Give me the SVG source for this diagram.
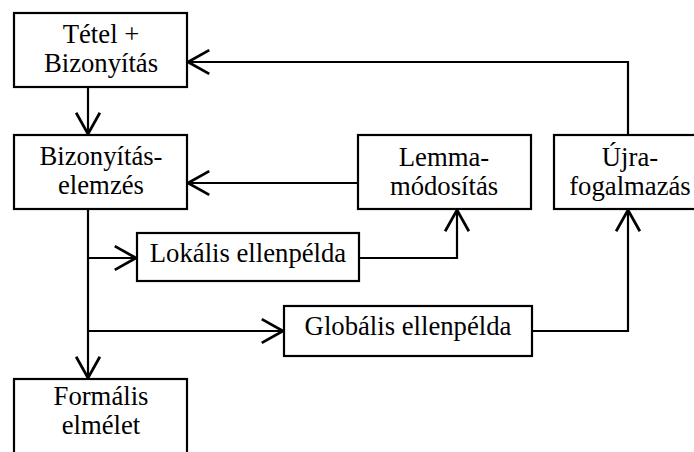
<svg xmlns="http://www.w3.org/2000/svg" width="694" height="452" viewBox="0 0 694 452">
<defs>
<style>
.box{fill:#fff;stroke:#000;stroke-width:2.2}
.lbl{font-family:"Liberation Serif","Times New Roman",serif;font-size:26.7px;fill:#000;text-anchor:middle}
.con{fill:none;stroke:#000;stroke-width:2.2;marker-end:url(#arr)}
</style>
<marker id="arr" markerUnits="userSpaceOnUse" markerWidth="30" markerHeight="30" viewBox="-20 -12 24 24" refX="0" refY="0" orient="auto">
<path d="M-17,-9.5 L0,0 L-17,9.5" fill="none" stroke="#000" stroke-width="2.2"/>
</marker>
</defs>
<rect width="694" height="452" fill="#fff"/>
<g id="connectors">
<path class="con" d="M88,87 V134"/>
<path class="con" d="M358,183 H188"/>
<path class="con" d="M628,135 V62 H188"/>
<path class="con" d="M88,209 V378"/>
<path class="con" d="M88,258 H136"/>
<path class="con" d="M88,331 H283"/>
<path class="con" d="M359,258 H457 V210"/>
<path class="con" d="M532,331 H628 V210"/>
</g>
<g id="tetel">
<rect class="box" x="14" y="13" width="173" height="74"/>
<text class="lbl" x="101" y="43">Tétel +</text>
<text class="lbl" x="101" y="72">Bizonyítás</text>
</g>
<g id="elemzes">
<rect class="box" x="14" y="135" width="173" height="74"/>
<text class="lbl" x="101" y="165">Bizonyítás-</text>
<text class="lbl" x="101" y="194">elemzés</text>
</g>
<g id="lemma">
<rect class="box" x="358" y="135" width="173" height="74"/>
<text class="lbl" x="444" y="166">Lemma-</text>
<text class="lbl" x="444" y="195">módosítás</text>
</g>
<g id="ujra">
<rect class="box" x="554" y="135" width="150" height="74"/>
<text class="lbl" x="630" y="166">Újra-</text>
<text class="lbl" x="630" y="195">fogalmazás</text>
</g>
<g id="lokalis">
<rect class="box" x="137" y="233" width="222" height="48"/>
<text class="lbl" x="248" y="262">Lokális ellenpélda</text>
</g>
<g id="globalis">
<rect class="box" x="284" y="306" width="248" height="50"/>
<text class="lbl" x="408" y="335">Globális ellenpélda</text>
</g>
<g id="formalis">
<rect class="box" x="14" y="379" width="173" height="80"/>
<text class="lbl" x="101" y="405">Formális</text>
<text class="lbl" x="101" y="434">elmélet</text>
</g>
</svg>
